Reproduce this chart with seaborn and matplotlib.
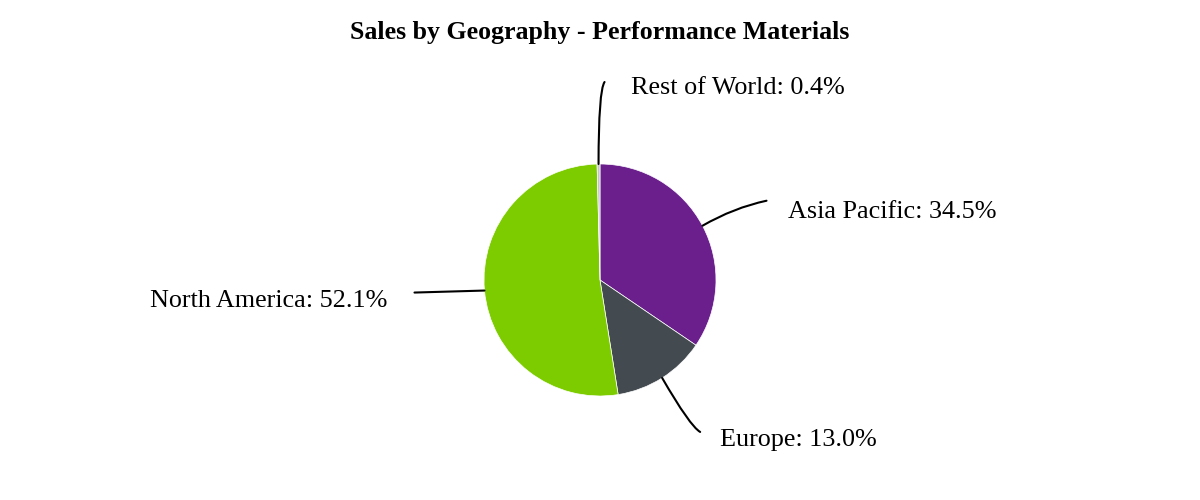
import numpy as np
import matplotlib
matplotlib.use("Agg")
import matplotlib.pyplot as plt
import seaborn as sns

regions = ["Asia Pacific", "Europe", "North America", "Rest of World"]
shares = [34.5, 13.0, 52.1, 0.4]
colors = ["#6a1f8c", "#434a50", "#7dcc00", "#c4c4c4"]
title = "Sales by Geography - Performance Materials"

sns.set_theme(style="white")
plt.rcParams["font.family"] = ["Liberation Serif", "DejaVu Serif"]
plt.rcParams["text.color"] = "black"

W, H = 1200, 500
fig = plt.figure(figsize=(12, 5), dpi=100)
ax = fig.add_axes([0, 0, 1, 1])

cx, cy, r = 600, 220, 116
wedges, _ = ax.pie(shares, colors=colors, startangle=90, counterclock=False,
                   center=(cx, cy), radius=r, frame=True,
                   wedgeprops=dict(edgecolor="white", linewidth=0.5))
ax.set_xlim(0, W)
ax.set_ylim(0, H)
ax.set_aspect("equal")
ax.axis("off")

# layout: connector end offset from anchor, text offset from connector end, alignment, connector style
layout = {
    "Asia Pacific": dict(end=(64, 25), txt=(21, -11), ha="left",
                         cs="angle3,angleA=30,angleB=12"),
    "Europe": dict(end=(38, -54), txt=(20, -8), ha="left",
                   cs="angle3,angleA=-60,angleB=-30"),
    "North America": dict(end=(-70, -2), txt=(-27, -8), ha="right",
                          cs="arc3,rad=0"),
    "Rest of World": dict(end=(6, 82), txt=(26, -6), ha="left",
                          cs="angle3,angleA=90,angleB=55"),
}

for w, name, val in zip(wedges, regions, shares):
    mid = np.deg2rad((w.theta1 + w.theta2) / 2)
    a_pt = (cx + r * np.cos(mid), cy + r * np.sin(mid))
    L = layout[name]
    end = (a_pt[0] + L["end"][0], a_pt[1] + L["end"][1])
    ax.annotate("", xy=end, xytext=a_pt,
                arrowprops=dict(arrowstyle="-", color="black", lw=1.5,
                                shrinkA=0, shrinkB=0,
                                connectionstyle=L["cs"]))
    ax.text(end[0] + L["txt"][0], end[1] + L["txt"][1], f"{name}: {val:.1f}%",
            ha=L["ha"], va="center", fontsize=18.8, color="black")

fig.text(0.5, 1 - 32 / H, title, ha="center", va="center",
         fontsize=18.6, fontweight="bold", color="black")

fig.savefig("out.png", dpi=100, facecolor="white")
